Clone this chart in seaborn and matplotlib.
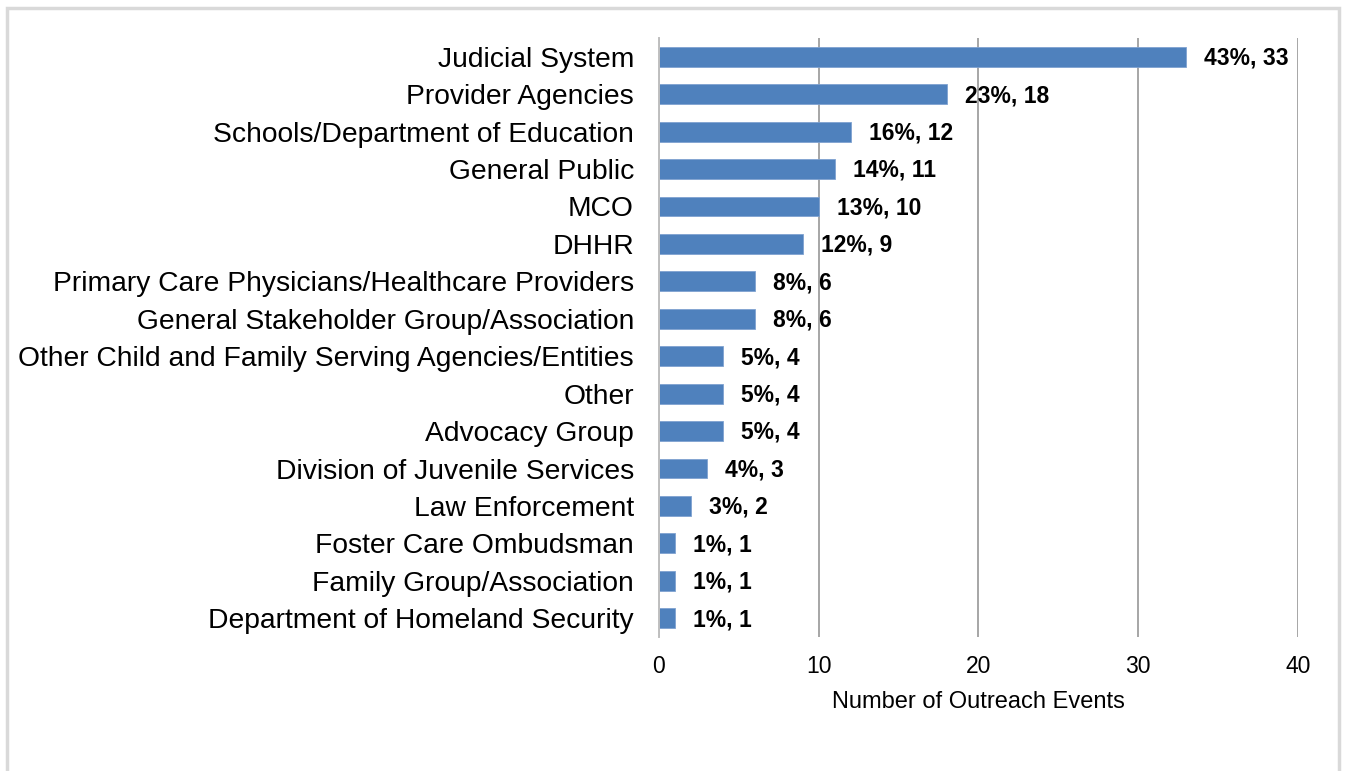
import matplotlib
matplotlib.use("Agg")
import matplotlib.pyplot as plt
from matplotlib.patches import Rectangle
import seaborn as sns
import pandas as pd

categories = [
    "Judicial System",
    "Provider Agencies",
    "Schools/Department of Education",
    "General Public",
    "MCO",
    "DHHR",
    "Primary Care Physicians/Healthcare Providers",
    "General Stakeholder Group/Association",
    "Other Child and Family Serving Agencies/Entities",
    "Other",
    "Advocacy Group",
    "Division of Juvenile Services",
    "Law Enforcement",
    "Foster Care Ombudsman",
    "Family Group/Association",
    "Department of Homeland Security",
]
events = [33, 18, 12, 11, 10, 9, 6, 6, 4, 4, 4, 3, 2, 1, 1, 1]
percents = [43, 23, 16, 14, 13, 12, 8, 8, 5, 5, 5, 4, 3, 1, 1, 1]
x_ticks = [0, 10, 20, 30, 40]

df = pd.DataFrame({"category": categories, "events": events, "pct": percents})

sns.set_theme(style="white")
plt.rcParams["font.family"] = ["Liberation Sans", "DejaVu Sans"]

fig = plt.figure(figsize=(13.47, 7.71), dpi=100)
ax = fig.add_axes([0.4892, 0.1738, 0.4744, 0.7769])

sns.barplot(data=df, x="events", y="category", orient="h", color="#4F81BD",
            saturation=1, width=0.53, edgecolor="#7FA2D0", linewidth=0.6, ax=ax)

ax.set_xlim(0, 40)
ax.set_xticks(x_ticks)
ax.set_xticklabels([str(t) for t in x_ticks], fontsize=16.5, color="#000000")
ax.tick_params(axis="y", labelsize=20.3, colors="#000000", length=0, pad=18)
ax.tick_params(axis="x", length=0, pad=13)
ax.set_ylabel("")
ax.set_xlabel("Number of Outreach Events", fontsize=17, labelpad=9, color="#000000")

ax.grid(axis="x", color="#A6A6A6", linewidth=1.4)
ax.set_axisbelow(True)
for side in ["top", "right", "bottom"]:
    ax.spines[side].set_visible(False)
ax.spines["left"].set_color("#BFBFBF")
ax.spines["left"].set_linewidth(1.4)

for i, (v, p) in enumerate(zip(events, percents)):
    ax.annotate(f"{p}%, {v}", xy=(v, i), xytext=(13, -1), textcoords="offset points",
                ha="left", va="center", fontsize=16.5, fontweight="bold", color="#000000")

fig.patches.append(Rectangle((7 / 1347, -0.05), (1339 - 7) / 1347, 1 - 8 / 771 + 0.05,
                             transform=fig.transFigure, fill=False,
                             edgecolor="#D9D9D9", linewidth=2.5))

fig.savefig("out.png", dpi=100)
